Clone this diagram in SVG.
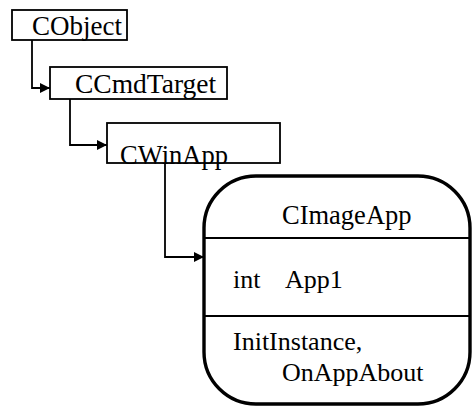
<svg xmlns="http://www.w3.org/2000/svg" width="472" height="409" viewBox="0 0 472 409">
  <style>
    .box { fill: #fff; stroke: #000; stroke-width: 1.8; }
    .cls { fill: #fff; stroke: #000; stroke-width: 3.4; }
    .sep { stroke: #000; stroke-width: 1.8; }
    .lbl { font-family: "Liberation Serif", "Times New Roman", serif; fill: #000; }
    .wire { fill: none; stroke: #000; stroke-width: 1.8; }
  </style>
  <defs>
    <marker id="tip" viewBox="0 0 10 10" refX="10" refY="5" markerWidth="10" markerHeight="10" markerUnits="userSpaceOnUse" orient="auto">
      <path d="M0,0 L10,5 L0,10 Z" fill="#000"/>
    </marker>
  </defs>

  <g id="connectors">
    <path class="wire" d="M32,40 V88 H50" marker-end="url(#tip)"/>
    <path class="wire" d="M70,99 V145 H107" marker-end="url(#tip)"/>
    <path class="wire" d="M165,163 V257 H204" marker-end="url(#tip)"/>
  </g>

  <g id="cobject">
    <rect class="box" x="12" y="10" width="115" height="30"/>
    <text class="lbl" x="32" y="35" font-size="27">CObject</text>
  </g>

  <g id="ccmdtarget">
    <rect class="box" x="50" y="67" width="177" height="32"/>
    <text class="lbl" x="75" y="93" font-size="27.5">CCmdTarget</text>
  </g>

  <g id="cwinapp">
    <rect class="box" x="107" y="123" width="173" height="40"/>
    <text class="lbl" x="120" y="164" font-size="26.5">CWinApp</text>
  </g>

  <g id="cimageapp">
    <rect class="cls" x="204" y="176" width="266" height="228" rx="52" ry="52"/>
    <line class="sep" x1="205" y1="238" x2="469" y2="238"/>
    <line class="sep" x1="205" y1="316" x2="469" y2="316"/>
    <text class="lbl" x="282" y="224" font-size="26.5">CImageApp</text>
    <text class="lbl" y="288" font-size="26"><tspan x="233">int</tspan><tspan x="285">App1</tspan></text>
    <text class="lbl" x="233" y="350" font-size="26">InitInstance,</text>
    <text class="lbl" x="282" y="381" font-size="26">OnAppAbout</text>
  </g>
</svg>
